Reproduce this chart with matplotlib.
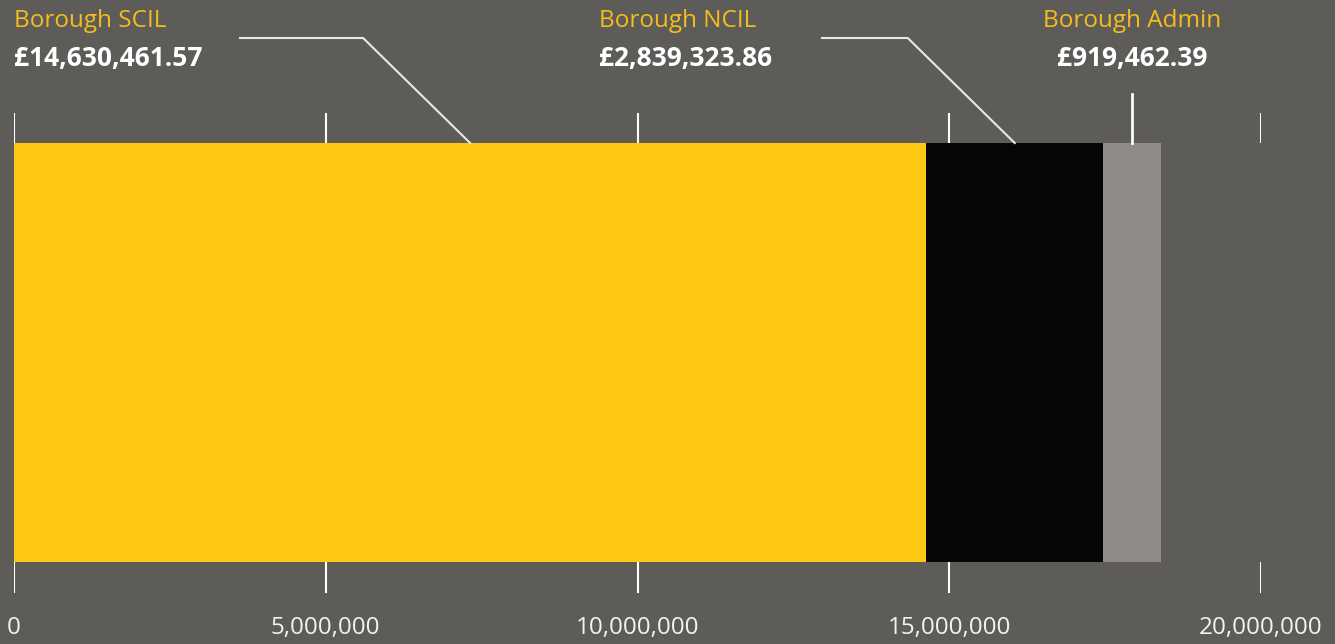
import matplotlib
matplotlib.use('Agg')
import matplotlib.pyplot as plt

# datos del grafico
categorias = ['Borough SCIL', 'Borough NCIL', 'Borough Admin']
valores = [14630461.57, 2839323.86, 919462.39]
colores = ['#fec814', '#050608', '#8f8b87']
ticks = [0, 5000000, 10000000, 15000000, 20000000]

FONDO = '#5e5c58'
AMARILLO = '#f5bd1a'

W, H = 1335, 644
X0, X1 = 14, 1261          # pixeles de 0 y 20M
fig = plt.figure(figsize=(W / 100, H / 100), dpi=100, facecolor=FONDO)
ax = fig.add_axes([X0 / W, 0, (X1 - X0) / W, 1])
ax.set_facecolor(FONDO)
ax.set_xlim(0, ticks[-1])
ax.set_ylim(H, 0)   # y en pixeles, de arriba hacia abajo
ax.axis('off')

px = lambda p: (p - X0) / (X1 - X0) * ticks[-1]
fuente = 'Open Sans'

# barra apilada
barra_y0, barra_y1 = 143, 562
izq = 0
medios = []
for v, c in zip(valores, colores):
    ax.barh((barra_y0 + barra_y1) / 2, v, left=izq, height=barra_y1 - barra_y0,
            color=c, linewidth=0)
    medios.append(izq + v / 2)
    izq += v

# marcas arriba y abajo
ax.vlines(ticks, 113, barra_y0, color='white', lw=1.5, zorder=0)
ax.vlines(ticks, barra_y1, 593, color='white', lw=1.5, zorder=0)
for t in ticks:
    ax.text(t, 628, f'{t:,}', color='#f2f2f2', fontsize=17.5, family=fuente,
            ha='center', va='center', clip_on=False)

# etiquetas con lineas guia
dx_diag = px(X0 + 107)
lineas_inicio = [240, 822]
ax.plot([px(lineas_inicio[0]), medios[0] - dx_diag, medios[0]], [38, 38, barra_y0],
        color='#e8e8e8', lw=1.5)
ax.plot([px(lineas_inicio[1]), medios[1] - dx_diag, medios[1]], [38, 38, barra_y0],
        color='#e8e8e8', lw=1.5)
ax.plot([medios[2], medios[2]], [94, barra_y0], color='white', lw=2)

etiquetas = [(px(14), 'left'), (px(599), 'left'), (medios[2], 'center')]
for (x, ha), cat, v in zip(etiquetas, categorias, valores):
    ax.text(x, 21, cat, color=AMARILLO, fontsize=17.5, family=fuente,
            ha=ha, va='center', clip_on=False)
    ax.text(x, 58, f'£{v:,.2f}', color='white', fontsize=19, family=fuente,
            fontweight='bold', ha=ha, va='center', clip_on=False)

fig.savefig('out.png', dpi=100, facecolor=FONDO)
